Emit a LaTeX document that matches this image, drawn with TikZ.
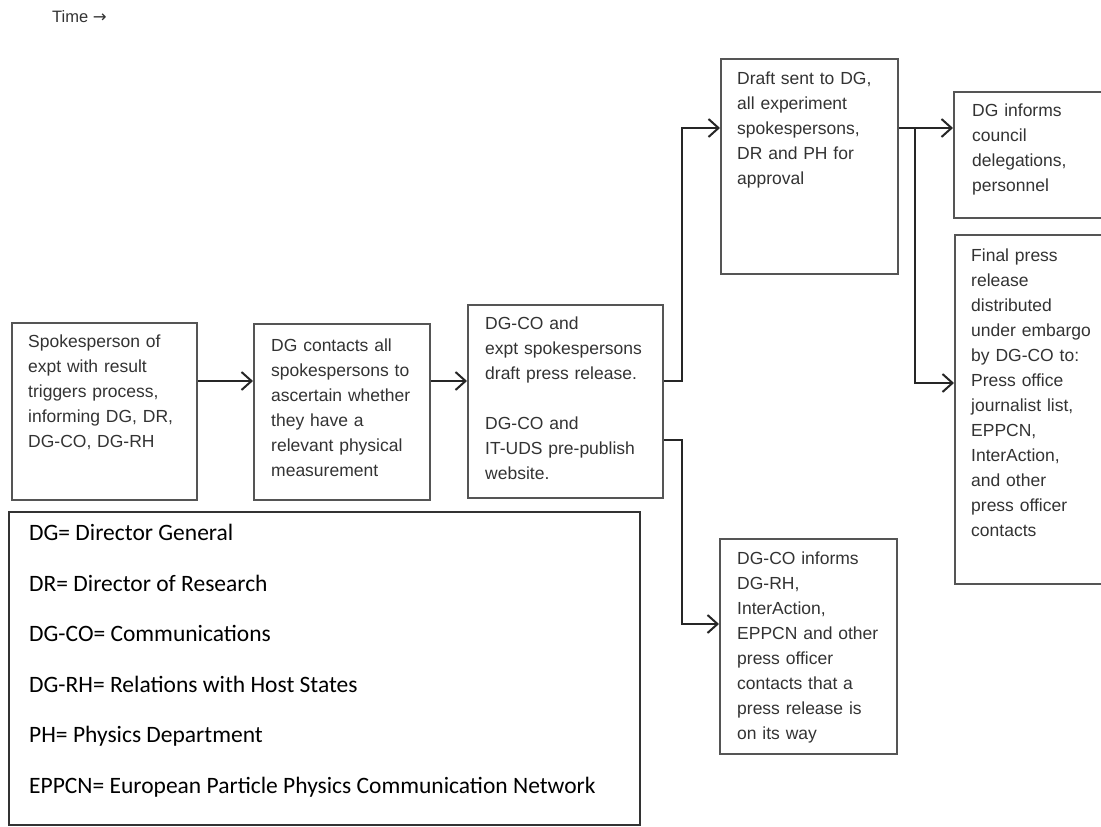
\documentclass[tikz,border=0pt]{standalone}
\usepackage{fontspec}
\setmainfont{Liberation Sans}
\newfontfamily\legendfont{Carlito}
\newfontfamily\arrowfont{DejaVu Sans}
\usetikzlibrary{arrows.meta,calc}

\definecolor{boxline}{HTML}{555555}
\definecolor{boxink}{HTML}{333333}
\definecolor{wireink}{HTML}{262626}

\tikzset{
  stepbox/.style={draw=boxline, line width=2.2pt, inner sep=0pt, anchor=north west},
  boxtext/.style={anchor=north west, inner sep=0pt, text=boxink, align=left,
    text width=180pt, font=\fontsize{17.5}{25}\selectfont},
  wire/.style={draw=wireink, line width=2pt,
    -{Straight Barb[length=10pt,width=18pt,line width=2pt]}},
  legendbox/.style={draw=black!80, line width=1.5pt, inner sep=0pt, anchor=north west},
  legendtext/.style={anchor=north west, inner sep=0pt, text=black, align=left,
    font=\legendfont\fontsize{23.5}{50.6}\selectfont},
}

\begin{document}
\begin{tikzpicture}[x=1pt, y=-1pt]
\useasboundingbox[fill=white] (0,0) rectangle (1101,827);

% time direction label
\node[anchor=west, inner sep=0pt, text=boxink, font=\fontsize{16.5}{18}\selectfont] (time) at (52,17) {Time {\arrowfont →}};

% process boxes
\node[stepbox, minimum width=185pt, minimum height=177pt] (A) at (11,322) {};
\node[stepbox, minimum width=176pt, minimum height=176pt] (B) at (253,323) {};
\node[stepbox, minimum width=195pt, minimum height=193pt] (C) at (467,304) {};
\node[stepbox, minimum width=177pt, minimum height=215pt] (D) at (720,58) {};
\node[stepbox, minimum width=177pt, minimum height=215pt] (E) at (719,538) {};
\node[stepbox, minimum width=160pt, minimum height=126pt] (F) at (953,91) {};
\node[stepbox, minimum width=160pt, minimum height=349pt] (G) at (954,234) {};

% box texts
\node[boxtext] (At) at (28,335) {Spokesperson of\\expt with result\\triggers process,\\informing DG, DR,\\DG-CO, DG-RH};
\node[boxtext] (Bt) at (271,339) {DG contacts all\\spokespersons to\\ascertain whether\\they have a\\relevant physical\\measurement};
\node[boxtext] (Ct) at (485,317) {DG-CO and\\expt spokespersons\\draft press release.\\[25pt]DG-CO and\\IT-UDS pre-publish\\website.};
\node[boxtext] (Dt) at (737,72) {Draft sent to DG,\\all experiment\\spokespersons,\\DR and PH for\\approval};
\node[boxtext] (Et) at (737,552) {DG-CO informs\\DG-RH,\\InterAction,\\EPPCN and other\\press officer\\contacts that a\\press release is\\on its way};
\node[boxtext] (Ft) at (972,104) {DG informs\\council\\delegations,\\personnel};
\node[boxtext] (Gt) at (971,249) {Final press\\release\\distributed\\under embargo\\by DG-CO to:\\Press office\\journalist list,\\EPPCN,\\InterAction,\\and other\\press officer\\contacts};

% connector levels
\coordinate (r1) at (0,381);
\coordinate (r2) at (0,440);
\coordinate (r3) at (0,128);
\coordinate (r4) at (0,624);
\coordinate (r5) at (0,383);
\coordinate (cx) at (682,0);
\coordinate (dx) at (915,0);

\draw[wire] (A.east |- r1) -- (B.west |- r1);
\draw[wire] (B.east |- r1) -- (C.west |- r1);
\draw[wire] (C.east |- r1) -- (cx |- r1) -- (cx |- r3) -- (D.west |- r3);
\draw[wire] (C.east |- r2) -- (cx |- r2) -- (cx |- r4) -- (E.west |- r4);
\draw[wire] (D.east |- r3) -- (F.west |- r3);
\draw[wire] (dx |- r3) -- (dx |- r5) -- (G.west |- r5);

% abbreviations
\node[legendbox, minimum width=631pt, minimum height=313pt] (L) at (8,511) {};
\node[legendtext] (Lt) at (29,524) {DG= Director General\\DR= Director of Research\\DG-CO= Communications\\DG-RH= Relations with Host States\\PH= Physics Department\\EPPCN= European Particle Physics Communication Network};
\end{tikzpicture}
\end{document}
